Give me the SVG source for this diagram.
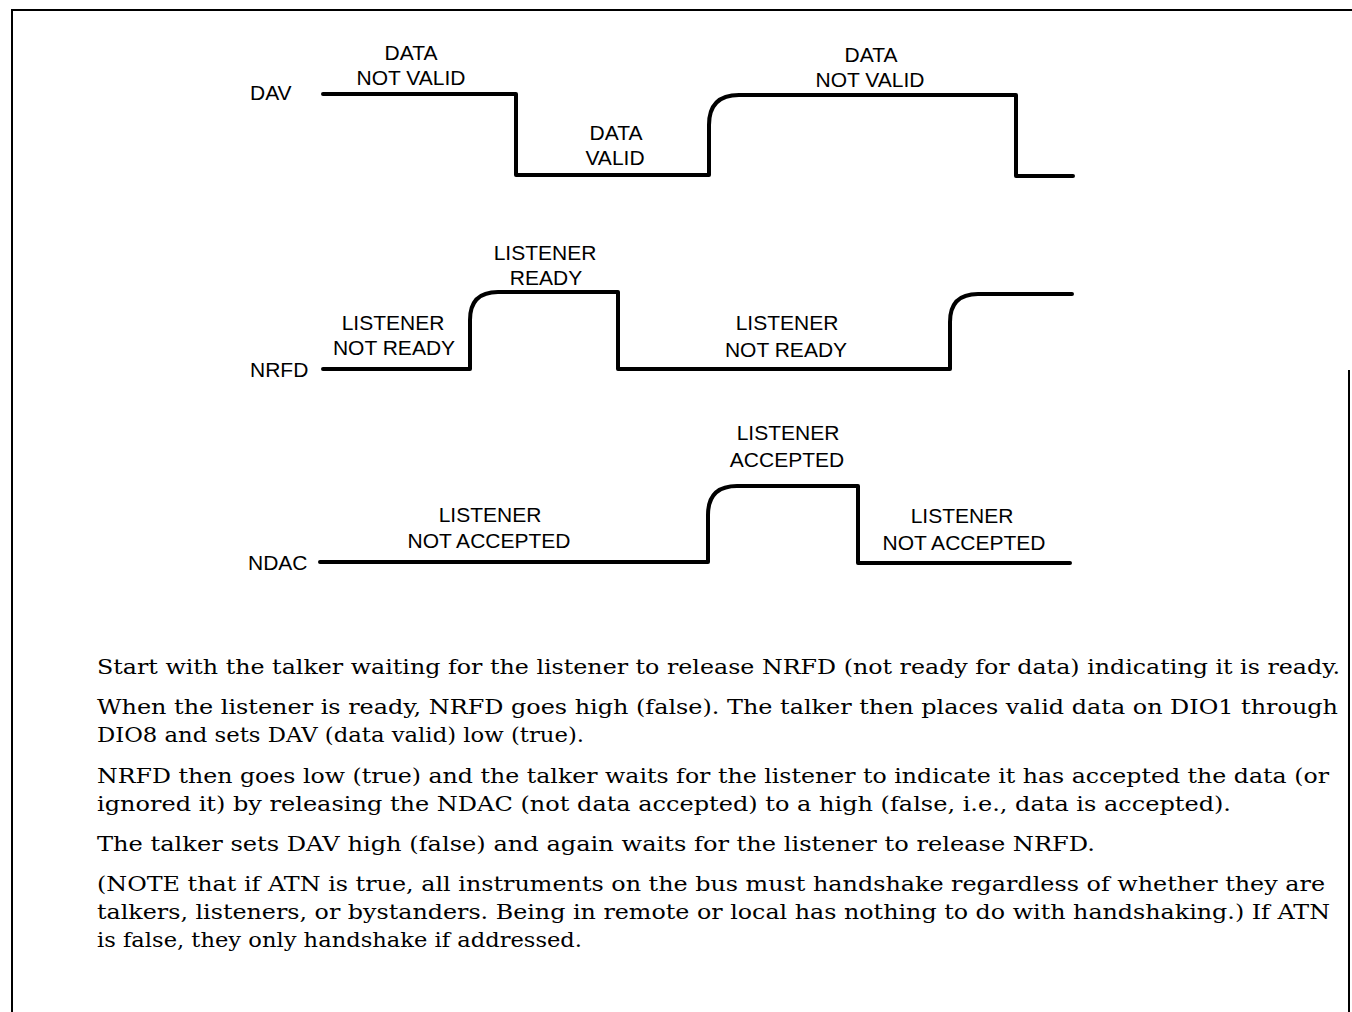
<svg xmlns="http://www.w3.org/2000/svg" width="1352" height="1012" viewBox="0 0 1352 1012">
<style>
.wave{fill:none;stroke:#000;stroke-width:4;stroke-linecap:round;stroke-linejoin:round}
.lbl{font-family:"Liberation Sans",Arial,sans-serif;font-size:21px;fill:#000;text-anchor:middle}
.sig{font-family:"Liberation Sans",Arial,sans-serif;font-size:21px;fill:#000}
.body{font-family:"DejaVu Serif","Liberation Serif",serif;font-size:20.5px;fill:#000}
.frame{fill:none;stroke:#000;stroke-width:2}
</style>
<rect width="1352" height="1012" fill="#fff"/>
<path class="frame" d="M12,1012 V10 H1352"/>
<path class="frame" d="M1349,370 V1012"/>
<g id="dav">
<text class="sig" x="250" y="100">DAV</text>
<text class="lbl" x="411" y="60">DATA</text>
<text class="lbl" x="411" y="85">NOT VALID</text>
<text class="lbl" x="616" y="140">DATA</text>
<text class="lbl" x="615" y="165">VALID</text>
<text class="lbl" x="871" y="62">DATA</text>
<text class="lbl" x="870" y="87">NOT VALID</text>
</g>
<g id="nrfd">
<text class="sig" x="250" y="377">NRFD</text>
<text class="lbl" x="545" y="260">LISTENER</text>
<text class="lbl" x="546" y="285">READY</text>
<text class="lbl" x="393" y="330">LISTENER</text>
<text class="lbl" x="394" y="355">NOT READY</text>
<text class="lbl" x="787" y="330">LISTENER</text>
<text class="lbl" x="786" y="357">NOT READY</text>
</g>
<g id="ndac">
<text class="sig" x="248" y="570">NDAC</text>
<text class="lbl" x="490" y="522">LISTENER</text>
<text class="lbl" x="489" y="548">NOT ACCEPTED</text>
<text class="lbl" x="788" y="440">LISTENER</text>
<text class="lbl" x="787" y="467">ACCEPTED</text>
<text class="lbl" x="962" y="523">LISTENER</text>
<text class="lbl" x="964" y="550">NOT ACCEPTED</text>
</g>
<g id="connectors">
<path class="wave" d="M323,94 H516 V175 H709 V125 Q709,95 739,95 H1016 V176 H1073"/>
<path class="wave" d="M323,369 H470 V320 Q470,292 498,292 H618 V369 H950 V322 Q950,294 978,294 H1072"/>
<path class="wave" d="M320,562 H708 V515 Q708,486 737,486 H858 V563 H1070"/>
</g>
<g id="notes">
<text class="body" x="97" y="674" textLength="1243" lengthAdjust="spacingAndGlyphs">Start with the talker waiting for the listener to release NRFD (not ready for data) indicating it is ready.</text>
<text class="body" x="97" y="714" textLength="1241" lengthAdjust="spacingAndGlyphs">When the listener is ready, NRFD goes high (false). The talker then places valid data on DIO1 through</text>
<text class="body" x="97" y="742" textLength="487" lengthAdjust="spacingAndGlyphs">DIO8 and sets DAV (data valid) low (true).</text>
<text class="body" x="97" y="783" textLength="1232" lengthAdjust="spacingAndGlyphs">NRFD then goes low (true) and the talker waits for the listener to indicate it has accepted the data (or</text>
<text class="body" x="97" y="811" textLength="1134" lengthAdjust="spacingAndGlyphs">ignored it) by releasing the NDAC (not data accepted) to a high (false, i.e., data is accepted).</text>
<text class="body" x="97" y="851" textLength="998" lengthAdjust="spacingAndGlyphs">The talker sets DAV high (false) and again waits for the listener to release NRFD.</text>
<text class="body" x="97" y="891" textLength="1228" lengthAdjust="spacingAndGlyphs">(NOTE that if ATN is true, all instruments on the bus must handshake regardless of whether they are</text>
<text class="body" x="97" y="919" textLength="1233" lengthAdjust="spacingAndGlyphs">talkers, listeners, or bystanders. Being in remote or local has nothing to do with handshaking.) If ATN</text>
<text class="body" x="97" y="947" textLength="485" lengthAdjust="spacingAndGlyphs">is false, they only handshake if addressed.</text>
</g>
</svg>
